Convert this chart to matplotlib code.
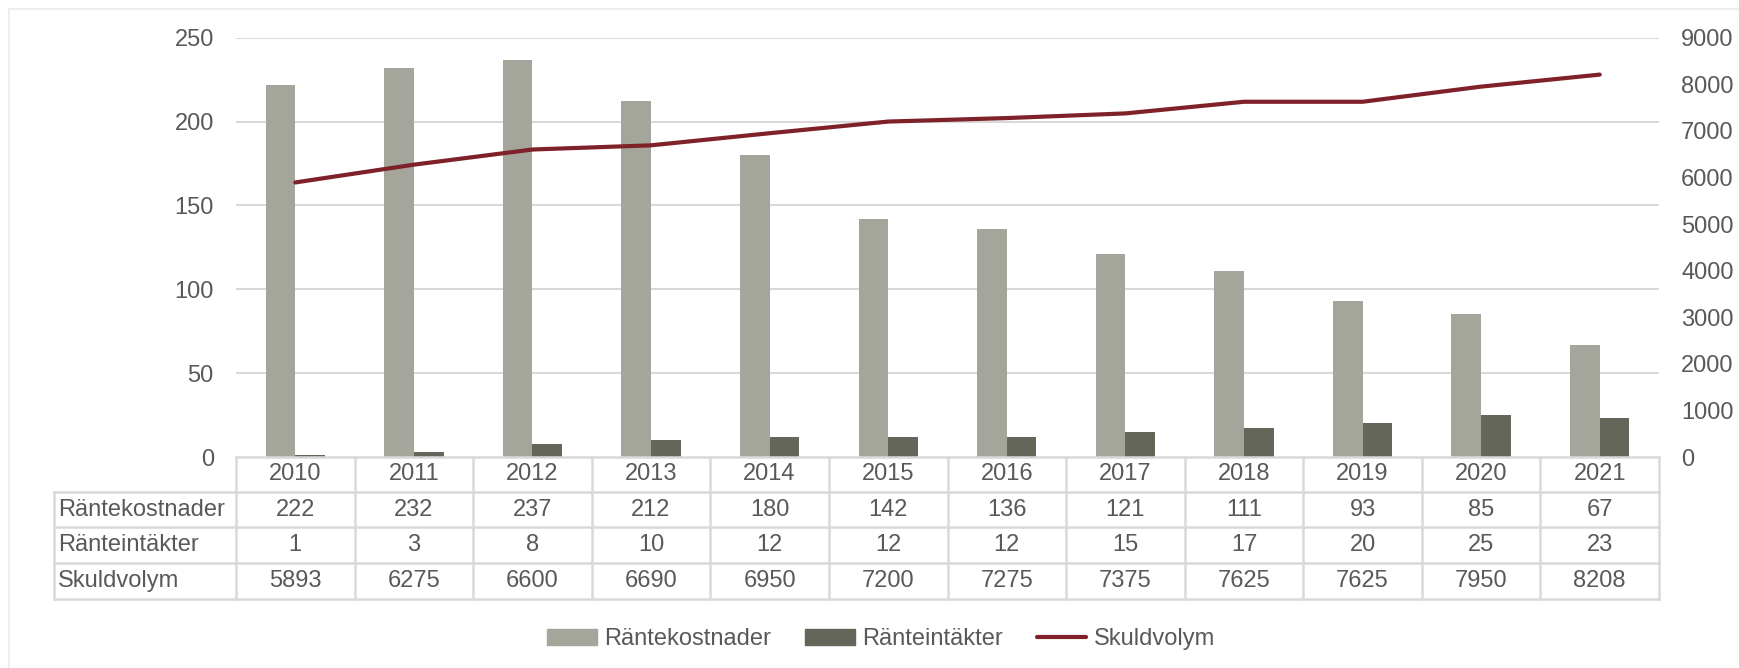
import matplotlib
matplotlib.use("Agg")
import matplotlib.pyplot as plt
import matplotlib.transforms as mtransforms
from matplotlib.lines import Line2D
import numpy as np

years = ["2010", "2011", "2012", "2013", "2014", "2015", "2016", "2017", "2018", "2019", "2020", "2021"]
rantekostnader = [222, 232, 237, 212, 180, 142, 136, 121, 111, 93, 85, 67]
ranteintakter = [1, 3, 8, 10, 12, 12, 12, 15, 17, 20, 25, 23]
skuldvolym = [5893, 6275, 6600, 6690, 6950, 7200, 7275, 7375, 7625, 7625, 7950, 8208]
series_names = ["Räntekostnader", "Ränteintäkter", "Skuldvolym"]

C_LIGHT = "#A5A69B"
C_DARK = "#65665A"
C_LINE = "#7E2128"
C_GRID = "#D9D9D9"
C_TEXT = "#595959"
FS = 17.0

plt.rcParams["font.family"] = ["Liberation Sans", "DejaVu Sans"]

W, H = 1739, 668
fig = plt.figure(figsize=(W / 100, H / 100), dpi=100)


def fx(px):
    return px / W


def fy(py):
    return 1 - py / H


left, right, top, bottom = 236, 1659, 37.7, 457
ax = fig.add_axes([fx(left), fy(bottom), fx(right - left), (bottom - top) / H])
ax2 = ax.twinx()

x = np.arange(len(years))
bw = 0.25
ax.bar(x - bw / 2, rantekostnader, width=bw, color=C_LIGHT, zorder=3)
ax.bar(x + bw / 2, ranteintakter, width=bw, color=C_DARK, zorder=3)
ax2.plot(x, skuldvolym, color=C_LINE, lw=3.0, solid_capstyle="round",
         solid_joinstyle="round", zorder=4)

ax.set_xlim(-0.5, len(years) - 0.5)
ax.set_ylim(0, 250)
ax.set_yticks(range(0, 251, 50))
ax2.set_ylim(0, 9000)
ax2.set_yticks(range(0, 9001, 1000))

for a in (ax, ax2):
    for s in a.spines.values():
        s.set_visible(False)
    a.tick_params(axis="both", length=0, labelsize=FS, labelcolor=C_TEXT)
ax.tick_params(axis="y", pad=16)
ax2.tick_params(axis="y", pad=16)
ax.set_xticks([])
ax.yaxis.grid(True, color=C_GRID, lw=1.5, zorder=0)
ax.set_axisbelow(True)
# the zero gridline is replaced by the table's top border
ax.get_ygridlines()[0].set_visible(False)

# data table under the plot
blend = mtransforms.blended_transform_factory(ax.transData, fig.transFigure)
row_edges = [457, 492, 527, 563, 599]
label_left = 54
lw_t = 1.8
edges_x = np.arange(len(years) + 1) - 0.5

# horizontal lines
fig.add_artist(Line2D([-0.5, len(years) - 0.5], [fy(row_edges[0])] * 2,
                      transform=blend, color=C_GRID, lw=lw_t))
for ry in row_edges[1:]:
    fig.add_artist(Line2D([fx(label_left), fx(left)], [fy(ry)] * 2,
                          transform=fig.transFigure, color=C_GRID, lw=lw_t))
    fig.add_artist(Line2D([-0.5, len(years) - 0.5], [fy(ry)] * 2,
                          transform=blend, color=C_GRID, lw=lw_t))
# vertical lines
fig.add_artist(Line2D([fx(label_left)] * 2, [fy(row_edges[1]), fy(row_edges[-1])],
                      transform=fig.transFigure, color=C_GRID, lw=lw_t))
for ex in edges_x:
    fig.add_artist(Line2D([ex, ex], [fy(row_edges[0]), fy(row_edges[-1])],
                          transform=blend, color=C_GRID, lw=lw_t))

centers = [(row_edges[i] + row_edges[i + 1]) / 2 for i in range(4)]
for i, yr in enumerate(years):
    fig.text(i, fy(centers[0]), yr, transform=blend, ha="center", va="center",
             fontsize=FS, color=C_TEXT)
rows = [rantekostnader, ranteintakter, skuldvolym]
for r, (name, vals) in enumerate(zip(series_names, rows)):
    cy = fy(centers[r + 1])
    fig.text(fx(label_left + 4), cy, name, ha="left", va="center",
             fontsize=FS, color=C_TEXT)
    for i, v in enumerate(vals):
        fig.text(i, cy, str(v), transform=blend, ha="center", va="center",
                 fontsize=FS, color=C_TEXT)

# legend
handles = [
    plt.Rectangle((0, 0), 1, 1, color=C_LIGHT),
    plt.Rectangle((0, 0), 1, 1, color=C_DARK),
    Line2D([0], [0], color=C_LINE, lw=3.0, solid_capstyle="round"),
]
leg = fig.legend(handles, series_names, loc="center", ncol=3,
                 bbox_to_anchor=(fx(881), fy(639)), frameon=False,
                 fontsize=FS, handlelength=2.1, handleheight=0.68,
                 handletextpad=0.3, columnspacing=1.45, labelcolor=C_TEXT)

# chart frame (top and left edges)
fig.add_artist(Line2D([fx(9), fx(W)], [fy(8.5)] * 2, transform=fig.transFigure,
                      color="#EEEEEE", lw=1.5))
fig.add_artist(Line2D([fx(9)] * 2, [fy(8.5), 0], transform=fig.transFigure,
                      color="#EEEEEE", lw=1.5))

fig.savefig("out.png", dpi=100, facecolor="white")
